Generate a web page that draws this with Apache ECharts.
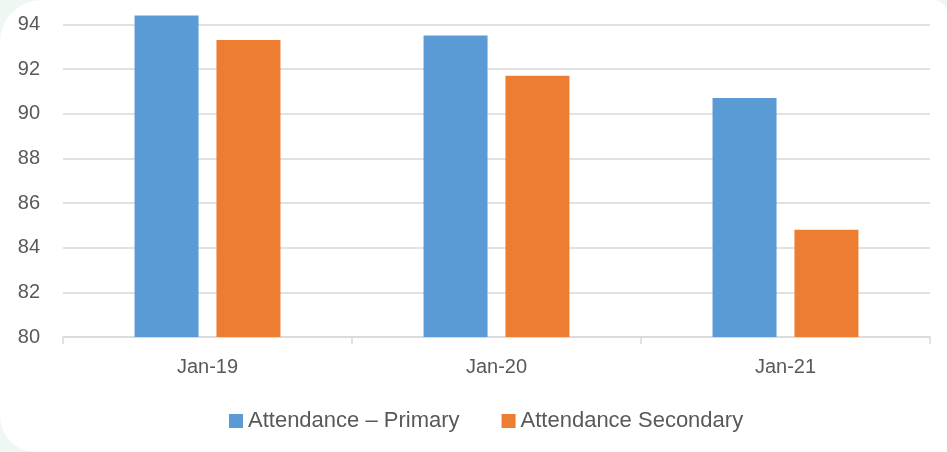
<!DOCTYPE html>
<html>
<head>
<meta charset="utf-8">
<script src="https://cdn.jsdelivr.net/npm/echarts@6/dist/echarts.min.js"></script>
<style>
  html, body { margin: 0; padding: 0; width: 947px; height: 452px; overflow: hidden; background: #eef7f1; }
  #card { position: absolute; left: 0; top: 0; width: 947px; height: 452px; background: #ffffff;
          border-top-left-radius: 42px; border-bottom-left-radius: 36px; border-top-right-radius: 14px; overflow: hidden; }
  #chart { width: 947px; height: 452px; }
</style>
</head>
<body>
<div id="card"><div id="chart"></div></div>
<script>
// Attendance rates (%) by January of each year
const categories = ['Jan-19', 'Jan-20', 'Jan-21'];
const primary = [94.4, 93.5, 90.7];
const secondary = [93.3, 91.7, 84.8];
const seriesNames = ['Attendance \u2013 Primary', 'Attendance Secondary'];

const textColor = '#595959';
const gridColor = '#d9d9d9';
const font = '"Liberation Sans", Arial, sans-serif';

const chart = echarts.init(document.getElementById('chart'), null, { renderer: 'canvas' });
chart.setOption({
  animation: false,
  textStyle: { fontFamily: font },
  grid: { left: 63, right: 17, top: 2, bottom: 115, containLabel: false },
  legend: {
    data: seriesNames,
    left: 224,
    top: 405,
    itemWidth: 14,
    itemHeight: 14,
    itemGap: 42,
    icon: 'rect',
    textStyle: { color: textColor, fontSize: 22, fontFamily: font }
  },
  xAxis: {
    type: 'category',
    data: categories,
    axisLine: { lineStyle: { color: gridColor, width: 1.5 } },
    axisTick: { show: true, length: 7, alignWithLabel: false, lineStyle: { color: gridColor, width: 1.5 } },
    axisLabel: { color: textColor, fontSize: 20, margin: 20, fontFamily: font }
  },
  yAxis: {
    type: 'value',
    min: 80,
    max: 95,
    interval: 2,
    axisLine: { show: false },
    axisTick: { show: false },
    axisLabel: { color: textColor, fontSize: 20, margin: 23, showMaxLabel: false, fontFamily: font },
    splitLine: { show: true, showMaxLine: false, lineStyle: { color: gridColor, width: 1.5 } }
  },
  series: [
    {
      name: seriesNames[0],
      type: 'bar',
      data: primary,
      barWidth: 64,
      barGap: '28%',
      itemStyle: { color: '#5b9bd5' }
    },
    {
      name: seriesNames[1],
      type: 'bar',
      data: secondary,
      barWidth: 64,
      itemStyle: { color: '#ed7d31' }
    }
  ]
});
</script>
</body>
</html>
